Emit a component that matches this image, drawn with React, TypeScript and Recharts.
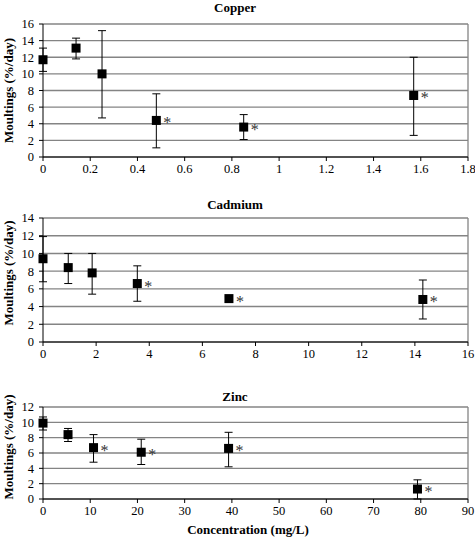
import React from "react";
import {
  CartesianGrid,
  ErrorBar,
  ReferenceLine,
  Scatter,
  ScatterChart,
  XAxis,
  YAxis,
} from "recharts";

// --- Copper ---
const copperConc = [0, 0.14, 0.25, 0.48, 0.85, 1.57];
const copperMean = [11.7, 13.1, 10.0, 4.4, 3.6, 7.4];
const copperLow = [10.3, 11.8, 4.7, 1.1, 2.1, 2.6];
const copperHigh = [13.1, 14.3, 15.2, 7.6, 5.1, 12.0];
const copperSig = [false, false, false, true, true, true];
const copperXTicks = [0, 0.2, 0.4, 0.6, 0.8, 1, 1.2, 1.4, 1.6, 1.8];
const copperYTicks = [0, 2, 4, 6, 8, 10, 12, 14, 16];

// --- Cadmium ---
const cadmiumConc = [0, 0.95, 1.85, 3.55, 7.0, 14.3];
const cadmiumMean = [9.4, 8.4, 7.8, 6.6, 4.9, 4.8];
const cadmiumLow = [6.8, 6.6, 5.4, 4.6, 4.5, 2.6];
const cadmiumHigh = [11.9, 10.0, 10.0, 8.6, 5.1, 7.0];
const cadmiumSig = [false, false, false, true, true, true];
const cadmiumXTicks = [0, 2, 4, 6, 8, 10, 12, 14, 16];
const cadmiumYTicks = [0, 2, 4, 6, 8, 10, 12, 14];

// --- Zinc ---
const zincConc = [0, 5.3, 10.7, 20.8, 39.3, 79.3];
const zincMean = [9.9, 8.4, 6.7, 6.1, 6.6, 1.3];
const zincLow = [9.0, 7.5, 4.8, 4.5, 4.2, 0];
const zincHigh = [10.7, 9.2, 8.4, 7.8, 8.7, 2.5];
const zincSig = [false, false, true, true, true, true];
const zincXTicks = [0, 10, 20, 30, 40, 50, 60, 70, 80, 90];
const zincYTicks = [0, 2, 4, 6, 8, 10, 12];

const FONT = "Liberation Serif, serif";
const GRID = "#848484";

function buildRows(
  conc: number[],
  mean: number[],
  low: number[],
  high: number[],
  sig: boolean[],
) {
  return conc.map((x, i) => ({
    x,
    y: mean[i],
    err: [mean[i] - low[i], high[i] - mean[i]],
    sig: sig[i],
  }));
}

function SquareMarker(props: any) {
  const { cx, cy, payload } = props;
  if (cx == null || cy == null) return null;
  return (
    <g>
      <rect x={cx - 4.5} y={cy - 4.5} width={9} height={9} fill="#000" />
      {payload?.sig && (
        <text
          x={cx + 7}
          y={cy + 8}
          style={{ fontFamily: FONT }}
          fontSize={16}
          fill="#333"
        >
          *
        </text>
      )}
    </g>
  );
}

interface PanelProps {
  data: ReturnType<typeof buildRows>;
  height: number;
  marginBottom: number;
  marginTop: number;
  showXLabel?: boolean;
  labelShift: number;
  title: string;
  titleY: number;
  top: number;
  xMax: number;
  xTicks: number[];
  yMax: number;
  yTicks: number[];
}

function Panel({
  data,
  height,
  marginBottom,
  marginTop,
  showXLabel,
  labelShift,
  title,
  titleY,
  top,
  xMax,
  xTicks,
  yMax,
  yTicks,
}: PanelProps) {
  return (
    <div style={{ position: "absolute", left: 0, top, width: 475, height }}>
      <div
        style={{
          position: "absolute",
          left: 0,
          top: titleY - 8,
          width: 470,
          textAlign: "center",
          fontFamily: FONT,
          fontWeight: "bold",
          fontSize: 13,
          lineHeight: "16px",
        }}
      >
        {title}
      </div>
      <ScatterChart
        width={475}
        height={height}
        margin={{ top: marginTop, right: 7, left: 0, bottom: marginBottom }}
        style={{ fontFamily: FONT }}
      >
        <CartesianGrid
          horizontal
          vertical={false}
          stroke={GRID}
          strokeWidth={1.4}
        />
        <ReferenceLine x={xMax} stroke={GRID} strokeWidth={1.3} />
        <XAxis
          type="number"
          dataKey="x"
          domain={[0, xMax]}
          ticks={xTicks}
          interval={0}
          height={18}
          stroke="#000"
          tickSize={4}
          tickMargin={3}
          tick={{ fill: "#000", fontSize: 12.5, style: { fontFamily: FONT } }}
          label={
            showXLabel
              ? {
                  content: (p: any) => (
                    <text
                      x={248}
                      y={p.viewBox.y + 35}
                      textAnchor="middle"
                      style={{ fontFamily: FONT }}
                      fontWeight="bold"
                      fontSize={13}
                    >
                      Concentration (mg/L)
                    </text>
                  ),
                }
              : undefined
          }
        />
        <YAxis
          type="number"
          dataKey="y"
          domain={[0, yMax]}
          ticks={yTicks}
          interval={0}
          width={43}
          stroke="#000"
          tickSize={4}
          tickMargin={5}
          tick={{ fill: "#000", fontSize: 12.5, style: { fontFamily: FONT } }}
          label={{
            content: (p: any) => {
              const cy = p.viewBox.y + p.viewBox.height / 2 + labelShift;
              return (
                <text
                  transform={`translate(13, ${cy}) rotate(-90)`}
                  textAnchor="middle"
                  style={{ fontFamily: FONT }}
                  fontWeight="bold"
                  fontSize={13}
                >
                  Moultings (%/day)
                </text>
              );
            },
          }}
        />
        <Scatter data={data} shape={SquareMarker} isAnimationActive={false}>
          <ErrorBar
            dataKey="err"
            direction="y"
            width={4}
            stroke="#000"
            strokeWidth={1}
          />
        </Scatter>
      </ScatterChart>
    </div>
  );
}

export default function App() {
  return (
    <div
      style={{
        position: "absolute",
        left: 0,
        top: 0,
        width: 475,
        height: 540,
        background: "#fff",
        fontFamily: FONT,
      }}
    >
      <Panel
        data={buildRows(copperConc, copperMean, copperLow, copperHigh, copperSig)}
        height={175}
        marginBottom={0}
        marginTop={24}
        labelShift={0}
        title="Copper"
        titleY={8}
        top={0}
        xMax={1.8}
        xTicks={copperXTicks}
        yMax={16}
        yTicks={copperYTicks}
      />
      <Panel
        data={buildRows(
          cadmiumConc,
          cadmiumMean,
          cadmiumLow,
          cadmiumHigh,
          cadmiumSig,
        )}
        height={180}
        marginBottom={0}
        marginTop={38}
        labelShift={-7}
        title="Cadmium"
        titleY={25}
        top={180}
        xMax={16}
        xTicks={cadmiumXTicks}
        yMax={14}
        yTicks={cadmiumYTicks}
      />
      <Panel
        data={buildRows(zincConc, zincMean, zincLow, zincHigh, zincSig)}
        height={180}
        marginBottom={23}
        marginTop={47}
        labelShift={-6}
        showXLabel
        title="Zinc"
        titleY={37}
        top={360}
        xMax={90}
        xTicks={zincXTicks}
        yMax={12}
        yTicks={zincYTicks}
      />
    </div>
  );
}
